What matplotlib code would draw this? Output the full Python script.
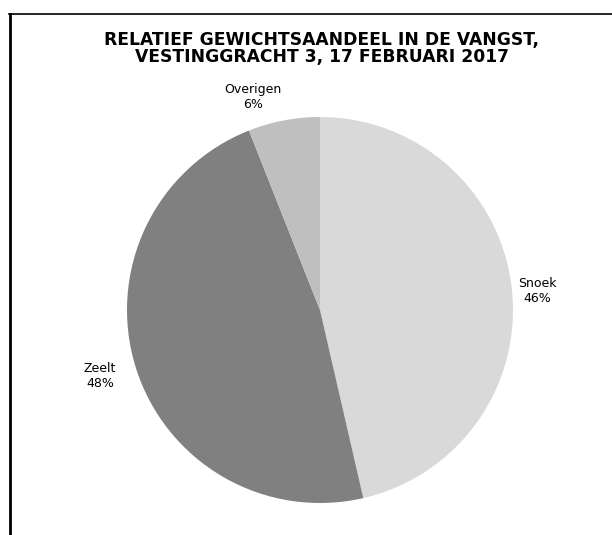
import matplotlib
matplotlib.use("Agg")
import matplotlib.pyplot as plt
from matplotlib.lines import Line2D

categories = ["Snoek", "Zeelt", "Overigen"]
values = [46.4, 47.6, 6.0]
colors = ["#d9d9d9", "#808080", "#bfbfbf"]
title_lines = ["RELATIEF GEWICHTSAANDEEL IN DE VANGST,", "VESTINGGRACHT 3, 17 FEBRUARI 2017"]

W, H = 612, 535
fig = plt.figure(figsize=(W / 100, H / 100), dpi=100)
plt.rcParams['font.family'] = ['DejaVu Sans']

cx, cy, r = 320, 310, 193
ax = fig.add_axes([(cx - r) / W, (H - cy - r) / H, 2 * r / W, 2 * r / H])
total = sum(values)
labels = [f"{c}\n{round(v / total * 100)}%" for c, v in zip(categories, values)]
wedges, texts = ax.pie(values, labels=labels, colors=colors, startangle=90,
                       counterclock=False, radius=1, labeldistance=1.16,
                       wedgeprops=dict(linewidth=0),
                       textprops=dict(fontsize=9, color="#000000", ha="center", va="center"))
# label placement (pixel positions of label centres in the reference layout)
label_px = [(537, 291), (100, 376), (253, 97)]
for t, (px, py) in zip(texts, label_px):
    t.set_horizontalalignment("center")
    t.set_multialignment("center")
    t.set_position(((px - cx) / r, (cy - py) / r))
ax.set_xlim(-1, 1)
ax.set_ylim(-1, 1)
ax.set_aspect("equal")
ax.axis("off")

fig.text(322 / W, 1 - 40 / H, title_lines[0], ha="center", va="center",
         fontsize=12.3, fontweight="bold")
fig.text(322 / W, 1 - 57 / H, title_lines[1], ha="center", va="center",
         fontsize=12.3, fontweight="bold")

fig.add_artist(Line2D([10 / W, 10 / W], [0, 1 - 14 / H], color="black", linewidth=2.0,
                      transform=fig.transFigure))
fig.add_artist(Line2D([9 / W, 1], [1 - 14 / H, 1 - 14 / H], color="black", linewidth=1.2,
                      transform=fig.transFigure))

fig.savefig("out.png", dpi=100)
